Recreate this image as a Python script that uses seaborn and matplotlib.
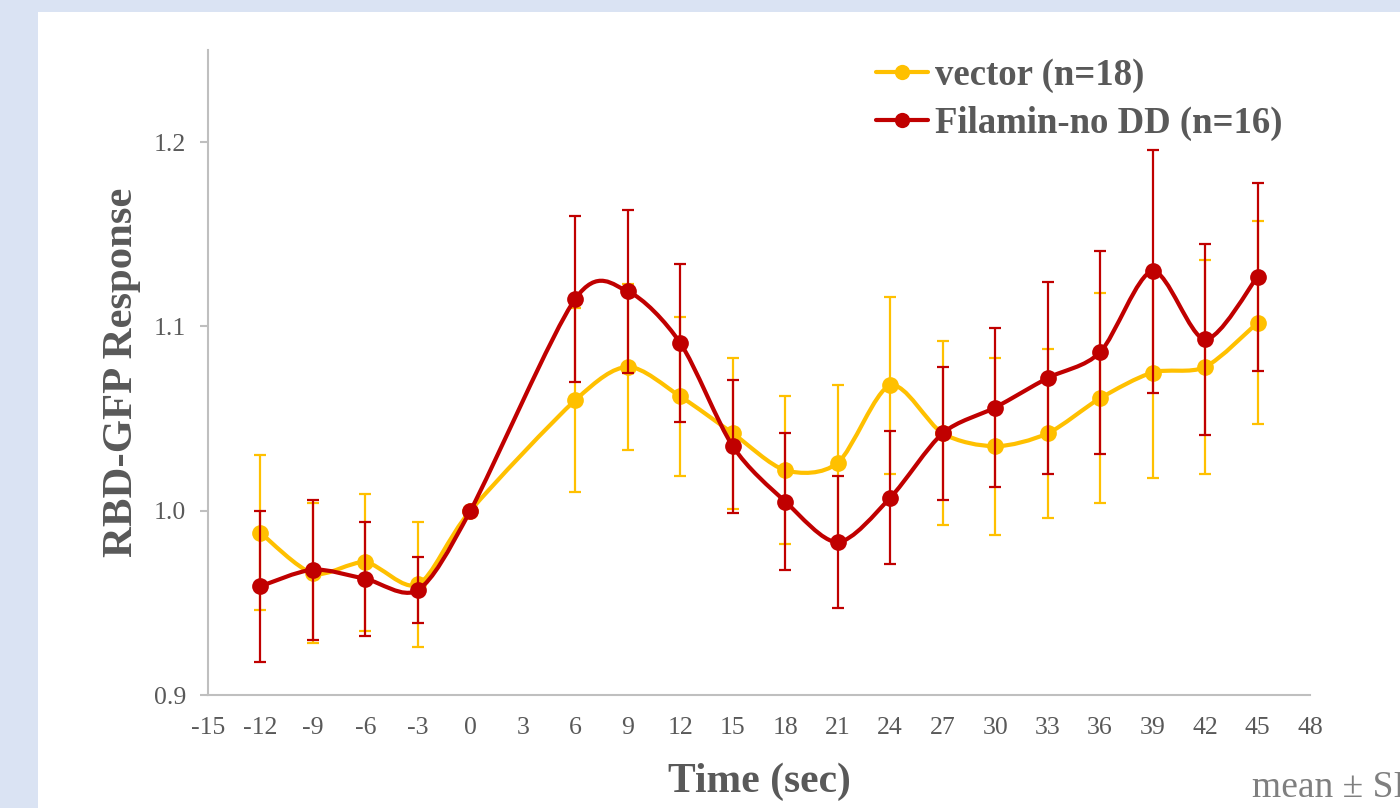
import numpy as np
import pandas as pd
import matplotlib
matplotlib.use("Agg")
import matplotlib.pyplot as plt
import seaborn as sns
from matplotlib.path import Path
from matplotlib.patches import PathPatch, Rectangle
from matplotlib.lines import Line2D

# ---------------- data ----------------
time_sec = [-12, -9, -6, -3, 0, 6, 9, 12, 15, 18, 21, 24, 27, 30, 33, 36, 39, 42, 45]
vector_mean = [0.988, 0.966, 0.972, 0.960, 1.000, 1.060, 1.078, 1.062, 1.042, 1.022,
               1.026, 1.068, 1.042, 1.035, 1.042, 1.061, 1.075, 1.078, 1.102]
vector_sd = [0.042, 0.038, 0.037, 0.034, 0.0, 0.050, 0.045, 0.043, 0.041, 0.040,
             0.042, 0.048, 0.050, 0.048, 0.046, 0.057, 0.057, 0.058, 0.055]
filamin_mean = [0.959, 0.968, 0.963, 0.957, 1.000, 1.115, 1.119, 1.091, 1.035, 1.005,
                0.983, 1.007, 1.042, 1.056, 1.072, 1.086, 1.130, 1.093, 1.127]
filamin_sd = [0.041, 0.038, 0.031, 0.018, 0.0, 0.045, 0.044, 0.043, 0.036, 0.037,
              0.036, 0.036, 0.036, 0.043, 0.052, 0.055, 0.066, 0.052, 0.051]
series_labels = ["vector (n=18)", "Filamin-no DD (n=16)"]
x_ticks = list(range(-15, 49, 3))
y_ticks = [0.9, 1.0, 1.1, 1.2]
x_label = "Time (sec)"
y_label = "RBD-GFP Response"
note_text = "mean \u00b1 SD"

# ---------------- style ----------------
sns.set_style("white")
plt.rcParams["font.family"] = ["Liberation Serif", "DejaVu Serif"]

colors = {series_labels[0]: "#FFC000", series_labels[1]: "#C00000"}
text_col = "#595959"
axis_col = "#BFBFBF"

df = pd.concat([
    pd.DataFrame({"time": time_sec, "value": vector_mean, "sd": vector_sd,
                  "series": series_labels[0]}),
    pd.DataFrame({"time": time_sec, "value": filamin_mean, "sd": filamin_sd,
                  "series": series_labels[1]}),
], ignore_index=True)

fig = plt.figure(figsize=(14, 8.08), dpi=100)
fig.patch.set_facecolor("#DAE3F3")
fig.add_artist(Rectangle((38 / 1400, 0), 1 - 38 / 1400, (808 - 12) / 808,
                         transform=fig.transFigure, facecolor="white",
                         edgecolor="none", zorder=0))

ax = fig.add_axes([208 / 1400, (808 - 695) / 808, 1102 / 1400, 645 / 808])
ax.set_facecolor("none")


def smooth_path(x, y, k=1.0 / 7.0):
    pts = np.column_stack([np.asarray(x, float), np.asarray(y, float)])
    n = len(pts)
    verts = [pts[0]]
    codes = [Path.MOVETO]
    for i in range(n - 1):
        p0 = pts[i - 1] if i > 0 else pts[i]
        p1 = pts[i]
        p2 = pts[i + 1]
        p3 = pts[i + 2] if i + 2 < n else pts[i + 1]
        verts += [p1 + (p2 - p0) * k, p2 - (p3 - p1) * k, p2]
        codes += [Path.CURVE4] * 3
    return Path(verts, codes)


base_z = 2
for lab in series_labels:
    sub = df[df["series"] == lab]
    col = colors[lab]
    mask = sub["sd"] > 0
    ax.errorbar(sub["time"][mask], sub["value"][mask], yerr=sub["sd"][mask],
                fmt="none", ecolor=col, elinewidth=1.6, capsize=4.5,
                capthick=1.6, zorder=base_z)
    ax.add_patch(PathPatch(smooth_path(sub["time"], sub["value"]),
                           facecolor="none", edgecolor=col, lw=3.0,
                           zorder=base_z + 1, capstyle="round", joinstyle="round"))
    sns.scatterplot(data=sub, x="time", y="value", color=col, s=145,
                    linewidth=0, ax=ax, zorder=base_z + 2, legend=False)
    base_z += 3

ax.set_xlim(-15, 48)
ax.set_ylim(0.9, 1.25)
ax.set_xticks(x_ticks)
ax.set_xticklabels([str(t) for t in x_ticks])
ax.set_yticks(y_ticks)
ax.set_yticklabels([f"{v:.1f}" for v in y_ticks])

for s in ["top", "right"]:
    ax.spines[s].set_visible(False)
for s in ["left", "bottom"]:
    ax.spines[s].set_color(axis_col)
    ax.spines[s].set_linewidth(1.5)

ax.tick_params(axis="x", length=0, pad=16, labelsize=18.5, labelcolor=text_col)
ax.tick_params(axis="y", length=6, width=1.5, color=axis_col, pad=10,
               labelsize=18.5, labelcolor=text_col, direction="out", left=True)

ax.set_xlabel(x_label, fontsize=30, fontweight="bold", color=text_col, labelpad=17)
ax.set_ylabel(y_label, fontsize=30.8, fontweight="bold", color=text_col, labelpad=9)

handles = [Line2D([0], [0], color=colors[l], lw=3.0, marker="o", markersize=11,
                  markeredgewidth=0) for l in series_labels]
leg = ax.legend(handles, series_labels, loc="upper left",
                bbox_to_anchor=((876 - 208) / 1102, (695 - 58) / 645),
                frameon=False, borderpad=0, borderaxespad=0,
                handlelength=1.41, handletextpad=0.19, labelspacing=0.34,
                prop={"family": ["Liberation Serif"], "weight": "bold", "size": 26.5})
for t in leg.get_texts():
    t.set_color(text_col)

fig.text(1252 / 1400, (808 - 797) / 808, note_text, fontsize=27, color="#7F7F7F",
         va="baseline", ha="left")

fig.savefig("out.png", dpi=100, facecolor=fig.get_facecolor())
